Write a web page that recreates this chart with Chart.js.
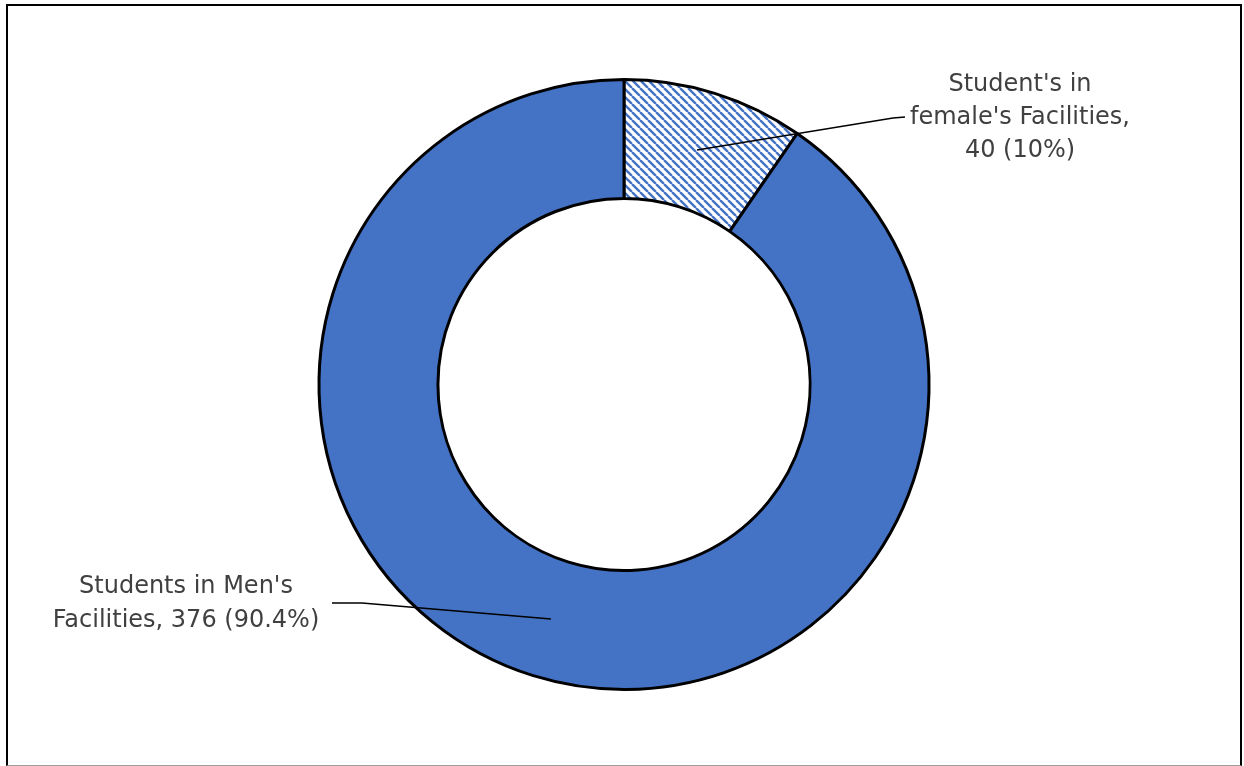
<!DOCTYPE html>
<html>
<head>
<meta charset="utf-8">
<script src="https://cdn.jsdelivr.net/npm/chart.js@4.4.0/dist/chart.umd.min.js"></script>
<style>
  html, body { margin: 0; padding: 0; background: #fff; }
  #wrap { position: absolute; left: 0; top: 0; width: 1244px; height: 766px; }
  #frame { position: absolute; left: 6px; top: 4px; width: 1232px; height: 759px; border: 2px solid #000; border-bottom: 1px solid #a0a0a0; pointer-events: none; }
</style>
</head>
<body>
<div id="wrap"><canvas id="donut" width="1244" height="766"></canvas></div>
<div id="frame"></div>
<script>
  const categories = ["Student's in female's Facilities", "Students in Men's Facilities"];
  const counts = [40, 376];
  const shares = ['10%', '90.4%'];
  const labelLines = [
    ["Student's in", "female's Facilities,", `${counts[0]} (${shares[0]})`],
    ["Students in Men's", `Facilities, ${counts[1]} (${shares[1]})`],
  ];

  const BLUE = '#4472C4';
  const TEXT = '#404040';
  const FONT = '24px "DejaVu Sans", sans-serif';

  function hatchPattern() {
    const c = document.createElement('canvas');
    c.width = 8; c.height = 8;
    const g = c.getContext('2d');
    g.fillStyle = '#fff';
    g.fillRect(0, 0, 8, 8);
    g.strokeStyle = BLUE;
    g.lineWidth = 2.4;
    g.beginPath();
    for (const o of [-8, 0, 8]) { g.moveTo(o, 0); g.lineTo(o + 8, 8); }
    g.stroke();
    return g.createPattern(c, 'repeat');
  }

  // label blocks: centre x, first line y, leader elbow and end
  const spots = [
    { x: 1020, y: 85, gap: 33, elbow: [893, 118], end: [905, 117] },
    { x: 186, y: 587, gap: 34, elbow: [362, 603], end: [332, 603] },
  ];

  const calloutPlugin = {
    id: 'callouts',
    afterDatasetsDraw(chart) {
      const ctx = chart.ctx;
      const arcs = chart.getDatasetMeta(0).data;
      ctx.save();
      arcs.forEach((arc, i) => {
        const s = spots[i];
        const mid = (arc.startAngle + arc.endAngle) / 2;
        const r = (arc.innerRadius + arc.outerRadius) / 2;
        const ax = arc.x + Math.cos(mid) * r;
        const ay = arc.y + Math.sin(mid) * r;
        ctx.strokeStyle = '#000';
        ctx.lineWidth = 1.5;
        ctx.beginPath();
        ctx.moveTo(ax, ay);
        ctx.lineTo(s.elbow[0], s.elbow[1]);
        ctx.lineTo(s.end[0], s.end[1]);
        ctx.stroke();
        ctx.fillStyle = TEXT;
        ctx.font = FONT;
        ctx.textAlign = 'center';
        ctx.textBaseline = 'middle';
        labelLines[i].forEach((t, k) => ctx.fillText(t, s.x, s.y + k * s.gap));
      });
      ctx.restore();
    }
  };

  new Chart(document.getElementById('donut'), {
    type: 'doughnut',
    data: {
      labels: categories,
      datasets: [{
        data: counts,
        backgroundColor: [hatchPattern(), BLUE],
        borderColor: '#000',
        borderWidth: 3,
        hoverOffset: 0,
        hoverBorderWidth: 3,
      }],
    },
    options: {
      responsive: false,
      devicePixelRatio: 1,
      animation: false,
      cutout: '61%',
      layout: { padding: { top: 78, bottom: 75, left: 4, right: 0 } },
      plugins: { legend: { display: false }, tooltip: { enabled: false } },
    },
    plugins: [calloutPlugin],
  });
</script>
</body>
</html>
